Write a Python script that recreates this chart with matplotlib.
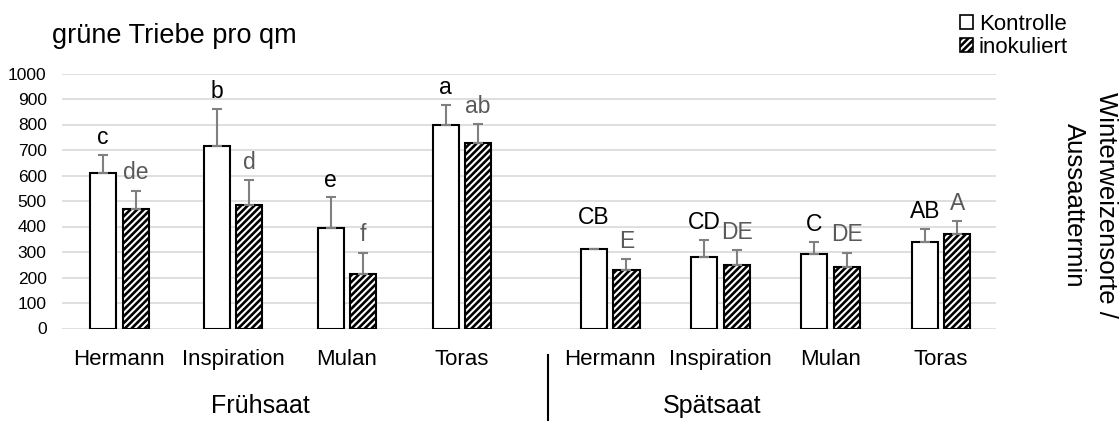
import numpy as np
import matplotlib.pyplot as plt
from matplotlib.patches import Patch
from matplotlib.lines import Line2D

plt.rcParams['font.family'] = ['Liberation Sans', 'DejaVu Sans']
plt.rcParams['hatch.linewidth'] = 1.9

# data
sorten = ["Hermann", "Inspiration", "Mulan", "Toras",
          "Hermann", "Inspiration", "Mulan", "Toras"]
termine = ["Frühsaat", "Spätsaat"]
kontrolle = [611, 716, 393, 797, 312, 282, 293, 338]
kontrolle_err = [70, 146, 121, 79, 0, 65, 47, 52]
inokuliert = [467, 485, 214, 729, 228, 249, 241, 371]
inokuliert_err = [73, 96, 83, 72, 43, 59, 56, 49]
letters_k = ["c", "b", "e", "a", "CB", "CD", "C", "AB"]
letters_i = ["de", "d", "f", "ab", "E", "DE", "DE", "A"]

# layout: group centres (category units), bar geometry
pos = np.array([0.49, 1.465, 2.44, 3.425, 4.695, 5.64, 6.585, 7.53])
w = 0.223
off = 0.14

fig = plt.figure(figsize=(11.19, 4.21), dpi=100)
ax = fig.add_axes([62/1119, 1-328.5/421, (996-62)/1119, 255/421])

ax.bar(pos - off, kontrolle, w, color="white", edgecolor="black", linewidth=1.5, zorder=3)
ax.bar(pos + off, inokuliert, w, color="white", edgecolor="black", hatch="/////",
       linewidth=1.5, zorder=3)
ax.errorbar(pos - off, kontrolle, yerr=[np.zeros(8), kontrolle_err], fmt="none",
            ecolor="#808080", elinewidth=1.5, capsize=3.3, capthick=1.5, zorder=4)
ax.errorbar(pos + off, inokuliert, yerr=[np.zeros(8), inokuliert_err], fmt="none",
            ecolor="#808080", elinewidth=1.5, capsize=3.3, capthick=1.5, zorder=4)

for i in range(8):
    pad = 125 if kontrolle_err[i] == 0 else 68
    ax.text(pos[i] - off, kontrolle[i] + kontrolle_err[i] + pad, letters_k[i],
            ha="center", va="center", fontsize=16.5, color="black")
    ax.text(pos[i] + off, inokuliert[i] + inokuliert_err[i] + 70, letters_i[i],
            ha="center", va="center", fontsize=16.5, color="#595959")

ax.set_xlim(0, 8)
ax.set_ylim(0, 1000)
ax.set_yticks(np.arange(0, 1001, 100))
ax.grid(axis="y", color="#d9d9d9", linewidth=1.2, zorder=0)
ax.set_axisbelow(True)
for s in ax.spines.values():
    s.set_visible(False)
ax.tick_params(axis="y", length=0, pad=11, labelsize=12.5)
ax.set_xticks(pos)
ax.set_xticklabels(sorten, fontsize=16)
ax.tick_params(axis="x", length=0, pad=15)

# group labels and separator
ax.text(1.70, -0.305, termine[0], transform=ax.get_xaxis_transform(),
        ha="center", va="center", fontsize=18)
ax.text(5.567, -0.305, termine[1], transform=ax.get_xaxis_transform(),
        ha="center", va="center", fontsize=18)
ax.add_line(Line2D([4.163, 4.163], [-0.105, -0.37], transform=ax.get_xaxis_transform(),
                   color="black", linewidth=1.5, clip_on=False))

fig.text(1090/1119, 1-205/421, "Winterweizensorte /\nAussaattermin", rotation=270,
         ha="center", va="center", fontsize=18.5, linespacing=1.45, multialignment="center")
fig.text(52/1119, 1-36/421, "grüne Triebe pro qm", fontsize=19.5, va="center", ha="left")

handles = [Patch(facecolor="white", edgecolor="black", linewidth=1.2),
           Patch(facecolor="white", edgecolor="black", hatch="/////", linewidth=1.2)]
fig.legend(handles, ["Kontrolle", "inokuliert"], loc="upper left",
           bbox_to_anchor=(942/1119, 1.01), frameon=False, fontsize=16,
           handlelength=0.6, handleheight=0.6, handletextpad=0.25, labelspacing=0.12,
           borderpad=0.3)

fig.savefig("out.png", dpi=100)
